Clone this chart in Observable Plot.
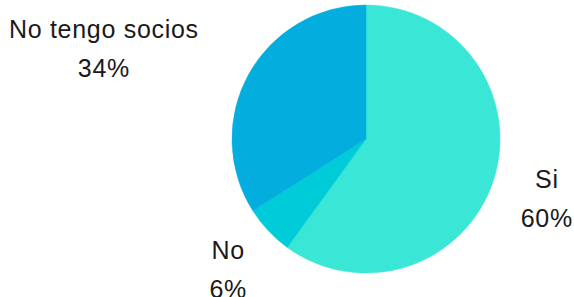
<!DOCTYPE html>
<html>
<head>
<meta charset="utf-8">
<script src="https://cdn.jsdelivr.net/npm/d3@7"></script>
<script src="https://cdn.jsdelivr.net/npm/@observablehq/plot@0.6"></script>
<style>
  html, body { margin: 0; padding: 0; background: #fff; }
  svg { display: block; }
</style>
</head>
<body>
<div id="chart"></div>
<script>
const categories = ["Si", "No", "No tengo socios"];
const values = [60, 6, 34];
const percentLabels = ["60%", "6%", "34%"];
const colors = ["#3ae6d6", "#00cbd9", "#03aede"];

const data = categories.map((c, i) => ({category: c, value: values[i], pct: percentLabels[i], color: colors[i]}));
const arcs = d3.pie().sort(null).value(d => d.value)(data);

// label anchor points in unit-circle coordinates (y up), along each slice's mid-angle
const labelNudgeX = {"No tengo socios": -0.72};
const labelData = arcs.map(a => {
  const m = (a.startAngle + a.endAngle) / 2;
  const k = 1.415;
  return {
    x: k * Math.sin(m) + (labelNudgeX[a.data.category] || 0),
    y: k * Math.cos(m),
    text: a.data.category + "\n" + a.data.pct
  };
});

const pieMark = (index, scales) => {
  const cx = scales.x(0), cy = scales.y(0);
  const r = scales.x(1) - scales.x(0);
  const arc = d3.arc().innerRadius(0).outerRadius(r);
  const g = d3.create("svg:g").attr("transform", `translate(${cx},${cy})`);
  g.selectAll("path").data(arcs).join("path")
    .attr("d", arc)
    .attr("fill", d => d.data.color)
    .attr("stroke", d => d.data.color)
    .attr("stroke-width", 0.5);
  return g.node();
};

const chart = Plot.plot({
  width: 574,
  height: 297,
  margin: 0,
  x: {domain: [-1, 1], range: [232, 500], axis: null},
  y: {domain: [-1, 1], range: [273, 5], axis: null},
  style: {fontFamily: "'Liberation Sans', Arial, sans-serif", letterSpacing: "0.7px", overflow: "visible"},
  marks: [
    pieMark,
    Plot.text(labelData, {
      x: "x", y: "y", text: "text",
      fontSize: 25, lineHeight: 1.55, dy: -3,
      fill: "#1a1a1a", textAnchor: "middle"
    })
  ]
});
document.getElementById("chart").appendChild(chart);
</script>
</body>
</html>
